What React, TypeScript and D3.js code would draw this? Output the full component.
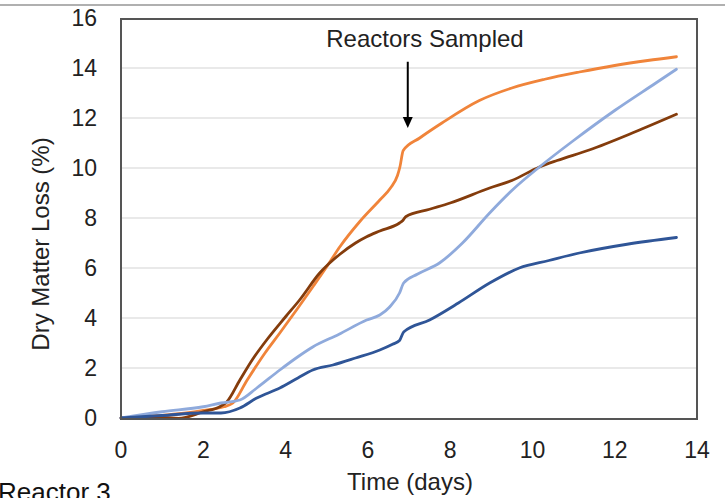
import React from "react";
import * as d3 from "d3";

const xTicks = [0, 2, 4, 6, 8, 10, 12, 14];
const yTicks = [0, 2, 4, 6, 8, 10, 12, 14, 16];

const orangeX = [0, 1, 2, 2.5, 2.72, 3.06, 3.5, 3.86, 4.3, 4.66, 5.0, 5.32, 5.8, 6.29, 6.55, 6.72, 6.78, 6.86, 7.26, 7.8, 8.71, 9.5, 10.3, 11.14, 12, 12.8, 13.5];
const orangeY = [0, 0.1, 0.3, 0.45, 0.6, 1.5, 2.6, 3.4, 4.4, 5.24, 6.05, 6.85, 7.85, 8.72, 9.2, 9.7, 10.05, 10.7, 11.2, 11.8, 12.7, 13.2, 13.55, 13.84, 14.1, 14.3, 14.45];

const brownX = [0, 1, 1.4, 2, 2.4, 2.57, 2.89, 3.2, 3.54, 4.0, 4.34, 4.83, 5.32, 5.7, 5.97, 6.29, 6.77, 6.85, 6.92, 7.5, 8.0, 8.96, 9.5, 10.17, 10.6, 11.38, 12.5, 13.5];
const brownY = [0, 0.02, -0.02, 0.25, 0.45, 0.64, 1.52, 2.35, 3.12, 4.05, 4.72, 5.8, 6.55, 7.0, 7.25, 7.48, 7.8, 7.9, 8.05, 8.35, 8.6, 9.2, 9.5, 10.04, 10.3, 10.72, 11.45, 12.15];

const lightBlueX = [0, 1, 2, 2.43, 2.89, 3.3, 3.86, 4.3, 4.66, 5.3, 5.97, 6.29, 6.53, 6.77, 6.87, 7.2, 7.74, 8.3, 8.96, 9.5, 10.17, 11, 12, 13, 13.5];
const lightBlueY = [0, 0.25, 0.45, 0.6, 0.72, 1.2, 1.92, 2.45, 2.84, 3.35, 3.92, 4.12, 4.44, 5.0, 5.4, 5.75, 6.2, 7.0, 8.2, 9.1, 10.04, 11.1, 12.3, 13.4, 13.95];

const darkBlueX = [0, 1, 2, 2.43, 2.89, 3.3, 3.86, 4.3, 4.66, 5.15, 5.7, 6.29, 6.6, 6.77, 6.87, 7.5, 8.2, 8.96, 9.68, 10.4, 11.14, 12.3, 13.5];
const darkBlueY = [0, 0.1, 0.2, 0.2, 0.4, 0.8, 1.2, 1.6, 1.92, 2.12, 2.4, 2.72, 2.95, 3.1, 3.44, 3.92, 4.6, 5.4, 6.0, 6.3, 6.6, 6.95, 7.22];

const seriesNames = ["Orange", "Brown", "Light blue", "Dark blue"];
const seriesColors = ["#F0843A", "#843C0C", "#8FAADC", "#2F5597"];
const seriesXs = [orangeX, brownX, lightBlueX, darkBlueX];
const seriesYs = [orangeY, brownY, lightBlueY, darkBlueY];

const annotationText = "Reactors Sampled";
const arrowX = 6.97;
const arrowY1 = 14.25;
const arrowY2 = 11.6;

const W = 725;
const H = 498;
const left = 121;
const right = 697;
const top = 18;
const bottom = 418;

export default function App() {
  const x = d3.scaleLinear().domain([0, 14]).range([left, right]);
  const y = d3.scaleLinear().domain([0, 16]).range([bottom, top]);
  const line = d3
    .line<[number, number]>()
    .x((d) => x(d[0]))
    .y((d) => y(d[1]))
    .curve(d3.curveMonotoneX);

  const font = "'Liberation Sans', Arial, sans-serif";
  const ax = x(arrowX);
  const ay1 = y(arrowY1);
  const ay2 = y(arrowY2);

  return (
    <div style={{ position: "absolute", left: 0, top: 0 }}>
      <svg width={W} height={H} style={{ display: "block", background: "#fff" }} fontFamily={font}>
        <rect x={0} y={0} width={W} height={H} fill="#fff" />
        <line x1={0} x2={W} y1={5} y2={5} stroke="#B0B0B0" strokeWidth={2} />
        {yTicks
          .filter((t) => t > 0 && t < 16)
          .map((t) => (
            <line key={"g" + t} x1={left} x2={right} y1={y(t)} y2={y(t)} stroke="#E2E2E2" strokeWidth={1.5} />
          ))}
        {seriesXs.map((xs, i) => (
          <path
            key={seriesNames[i]}
            d={line(xs.map((v, j) => [v, seriesYs[i][j]] as [number, number])) || ""}
            fill="none"
            stroke={seriesColors[i]}
            strokeWidth={2.8}
            strokeLinejoin="round"
            strokeLinecap="round"
          />
        ))}
        <rect x={left} y={top + 1} width={right - left} height={bottom - top} fill="none" stroke="#555" strokeWidth={2} />
        {yTicks.map((t) => (
          <text key={"y" + t} x={97} y={y(t)} dy="0.36em" textAnchor="end" fontSize={23} fill="#222">
            {t}
          </text>
        ))}
        {xTicks.map((t) => (
          <text key={"x" + t} x={x(t)} y={458} textAnchor="middle" fontSize={23} fill="#222">
            {t}
          </text>
        ))}
        <text x={410} y={490} textAnchor="middle" fontSize={24} fill="#222">
          Time (days)
        </text>
        <text
          transform={`translate(49, ${(bottom + top) / 2 + 26}) rotate(-90)`}
          textAnchor="middle"
          fontSize={24}
          fill="#222"
        >
          Dry Matter Loss (%)
        </text>
        <text x={425} y={47} textAnchor="middle" fontSize={24} fill="#222">
          {annotationText}
        </text>
        <line x1={ax} x2={ax} y1={ay1} y2={ay2 - 10} stroke="#000" strokeWidth={2} />
        <path d={`M${ax - 5},${ay2 - 11} L${ax + 5},${ay2 - 11} L${ax},${ay2} Z`} fill="#000" />
        <text x={-2} y={501} fontSize={26} fill="#111">
          Reactor 3
        </text>
      </svg>
    </div>
  );
}
